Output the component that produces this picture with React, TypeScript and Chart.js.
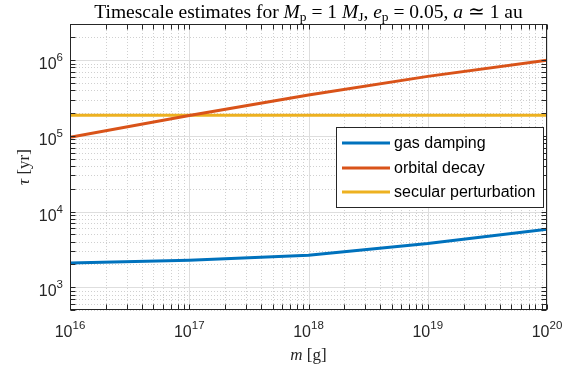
import { useEffect, useRef } from 'react';
import { Chart, registerables } from 'chart.js';

Chart.register(...registerables);

// ---- data ----
const masses = [1e16, 1e17, 1e18, 1e19, 1e20];
const gasDamping = [2090, 2270, 2650, 3780, 5850];
const orbitalDecay = [9.6e4, 1.86e5, 3.45e5, 6.1e5, 1.0e6];
const secularPerturbation = [1.87e5, 1.87e5, 1.87e5, 1.87e5, 1.87e5];
const seriesNames = ['gas damping', 'orbital decay', 'secular perturbation'];
const seriesColors = ['#0072BD', '#D95319', '#EDB120'];
const xTickExponents = [16, 17, 18, 19, 20];
const yTickExponents = [3, 4, 5, 6];
const xRange = [1e16, 1e20];
const yRange = [500, 3e6];

const SANS = '"Liberation Sans", Arial, Helvetica, sans-serif';
const SERIF = '"Liberation Serif", "Times New Roman", serif';
const INK = '#262626';

type Run = { text: string; font: string; dy?: number; w?: number };

function drawRuns(ctx: CanvasRenderingContext2D, runs: Run[], x: number, y: number, align: string) {
  let total = 0;
  for (const r of runs) {
    ctx.font = r.font;
    r.w = ctx.measureText(r.text).width;
    total += r.w;
  }
  let cx = align === 'center' ? x - total / 2 : align === 'right' ? x - total : x;
  ctx.textAlign = 'left';
  ctx.textBaseline = 'alphabetic';
  for (const r of runs) {
    ctx.font = r.font;
    ctx.fillText(r.text, cx, y + (r.dy || 0));
    cx += r.w || 0;
  }
}

function logValues(minExp: number, maxExp: number) {
  const out: { v: number; major: boolean }[] = [];
  for (let e = minExp; e <= maxExp; e++) {
    for (let m = 1; m <= 9; m++) {
      out.push({ v: m * Math.pow(10, e), major: m === 1 });
    }
  }
  return out;
}

const matlabAxes = {
  id: 'matlabAxes',
  beforeDatasetsDraw(chart: any) {
    const { ctx, chartArea: a, scales } = chart;
    const xs = scales.x;
    const ys = scales.y;
    ctx.save();
    const xv = logValues(16, 20).filter((t) => t.v >= xRange[0] && t.v <= xRange[1]);
    const yv = logValues(2, 6).filter((t) => t.v >= yRange[0] && t.v <= yRange[1]);
    // minor grid
    ctx.lineWidth = 1;
    ctx.strokeStyle = '#d0d0d0';
    ctx.setLineDash([1, 2]);
    ctx.beginPath();
    for (const t of xv) {
      if (t.major) continue;
      const px = Math.round(xs.getPixelForValue(t.v)) + 0.5;
      ctx.moveTo(px, a.top);
      ctx.lineTo(px, a.bottom);
    }
    for (const t of yv) {
      if (t.major) continue;
      const py = Math.round(ys.getPixelForValue(t.v)) + 0.5;
      ctx.moveTo(a.left, py);
      ctx.lineTo(a.right, py);
    }
    ctx.stroke();
    // major grid
    ctx.setLineDash([]);
    ctx.strokeStyle = '#dedede';
    ctx.beginPath();
    for (const t of xv) {
      if (!t.major) continue;
      const px = Math.round(xs.getPixelForValue(t.v)) + 0.5;
      ctx.moveTo(px, a.top);
      ctx.lineTo(px, a.bottom);
    }
    for (const t of yv) {
      if (!t.major) continue;
      const py = Math.round(ys.getPixelForValue(t.v)) + 0.5;
      ctx.moveTo(a.left, py);
      ctx.lineTo(a.right, py);
    }
    ctx.stroke();
    ctx.restore();
  },
  afterDatasetsDraw(chart: any) {
    const { ctx, chartArea: a, scales } = chart;
    const xs = scales.x;
    const ys = scales.y;
    ctx.save();
    const L = Math.round(a.left) + 0.5;
    const R = Math.round(a.right) - 0.5;
    const T = Math.round(a.top) + 0.5;
    const B = Math.round(a.bottom) - 0.5;
    const xv = logValues(16, 20).filter((t) => t.v >= xRange[0] && t.v <= xRange[1]);
    const yv = logValues(2, 6).filter((t) => t.v >= yRange[0] && t.v <= yRange[1]);
    // ticks
    ctx.strokeStyle = INK;
    ctx.lineWidth = 1;
    ctx.beginPath();
    for (const t of xv) {
      const px = Math.round(xs.getPixelForValue(t.v)) + 0.5;
      const len = 5;
      ctx.moveTo(px, B);
      ctx.lineTo(px, B - len);
      ctx.moveTo(px, T);
      ctx.lineTo(px, T + len);
    }
    for (const t of yv) {
      const py = Math.round(ys.getPixelForValue(t.v)) + 0.5;
      const len = 5;
      ctx.moveTo(L, py);
      ctx.lineTo(L + len, py);
      ctx.moveTo(R, py);
      ctx.lineTo(R - len, py);
    }
    ctx.stroke();
    // box
    ctx.strokeRect(L, T, R - L, B - T);

    // tick labels
    ctx.fillStyle = INK;
    for (const e of xTickExponents) {
      const px = xs.getPixelForValue(Math.pow(10, e));
      drawRuns(ctx, [
        { text: '10', font: `16px ${SANS}` },
        { text: String(e), font: `11.5px ${SANS}`, dy: -8 },
      ], px, 337, 'center');
    }
    for (const e of yTickExponents) {
      const py = ys.getPixelForValue(Math.pow(10, e));
      drawRuns(ctx, [
        { text: '10', font: `16px ${SANS}` },
        { text: String(e), font: `11.5px ${SANS}`, dy: -8 },
      ], a.left - 7, py + 9, 'right');
    }

    // axis titles
    drawRuns(ctx, [
      { text: 'm', font: `italic 17px ${SERIF}` },
      { text: ' [g]', font: `17px ${SERIF}` },
    ], (a.left + a.right) / 2, 360, 'center');
    ctx.save();
    ctx.translate(29, (a.top + a.bottom) / 2);
    ctx.rotate(-Math.PI / 2);
    drawRuns(ctx, [
      { text: 'τ', font: `italic 17px ${SERIF}` },
      { text: ' [yr]', font: `17px ${SERIF}` },
    ], 0, 0, 'center');
    ctx.restore();

    // title
    ctx.fillStyle = '#000';
    const fs = 19.5;
    const sub = 13.5;
    drawRuns(ctx, [
      { text: 'Timescale estimates for ', font: `${fs}px ${SERIF}` },
      { text: 'M', font: `italic ${fs}px ${SERIF}` },
      { text: 'p', font: `${sub}px ${SERIF}`, dy: 3 },
      { text: ' = 1 ', font: `${fs}px ${SERIF}` },
      { text: 'M', font: `italic ${fs}px ${SERIF}` },
      { text: 'J', font: `${sub}px ${SERIF}`, dy: 3 },
      { text: ', ', font: `${fs}px ${SERIF}` },
      { text: 'e', font: `italic ${fs}px ${SERIF}` },
      { text: 'p', font: `${sub}px ${SERIF}`, dy: 3 },
      { text: ' = 0.05, ', font: `${fs}px ${SERIF}` },
      { text: 'a', font: `italic ${fs}px ${SERIF}` },
      { text: ' ≃ 1 au', font: `${fs}px ${SERIF}` },
    ], (a.left + a.right) / 2, 18, 'center');

    // legend
    const lx = 336.5, ly = 127.5, lw = 207, lh = 80;
    ctx.fillStyle = '#fff';
    ctx.fillRect(lx, ly, lw, lh);
    ctx.strokeStyle = INK;
    ctx.lineWidth = 1;
    ctx.strokeRect(lx, ly, lw, lh);
    const rows = [143, 168, 192];
    seriesNames.forEach((name, i) => {
      ctx.strokeStyle = seriesColors[i];
      ctx.lineWidth = 3;
      ctx.beginPath();
      ctx.moveTo(342, rows[i]);
      ctx.lineTo(390, rows[i]);
      ctx.stroke();
      ctx.fillStyle = '#000';
      ctx.font = `16px ${SANS}`;
      ctx.textAlign = 'left';
      ctx.textBaseline = 'middle';
      ctx.fillText(name, 394, rows[i] + 1);
    });
    ctx.restore();
  },
};

export default function App() {
  const ref = useRef<HTMLCanvasElement | null>(null);
  useEffect(() => {
    document.body.style.margin = '0';
    const canvas = ref.current;
    if (!canvas) return;
    const seriesValues = [gasDamping, orbitalDecay, secularPerturbation];
    const chart = new Chart(canvas, {
      type: 'line',
      data: {
        datasets: seriesValues.map((vals, i) => ({
          label: seriesNames[i],
          data: masses.map((m, j) => ({ x: m, y: vals[j] })),
          borderColor: seriesColors[i],
          backgroundColor: seriesColors[i],
          borderWidth: 3,
          pointRadius: 0,
          tension: 0,
          fill: false,
        })),
      },
      options: {
        animation: false,
        responsive: false,
        devicePixelRatio: 1,
        layout: { padding: { left: 70, right: 27, top: 24, bottom: 59 } },
        plugins: { legend: { display: false }, tooltip: { enabled: false }, title: { display: false } },
        scales: {
          x: { type: 'logarithmic', min: xRange[0], max: xRange[1], display: false },
          y: { type: 'logarithmic', min: yRange[0], max: yRange[1], display: false },
        },
      },
      plugins: [matlabAxes],
    });
    return () => chart.destroy();
  }, []);
  return (
    <div style={{ width: 574, height: 369, background: '#fff' }}>
      <canvas ref={ref} width={574} height={369} style={{ width: 574, height: 369, display: 'block' }} />
    </div>
  );
}
